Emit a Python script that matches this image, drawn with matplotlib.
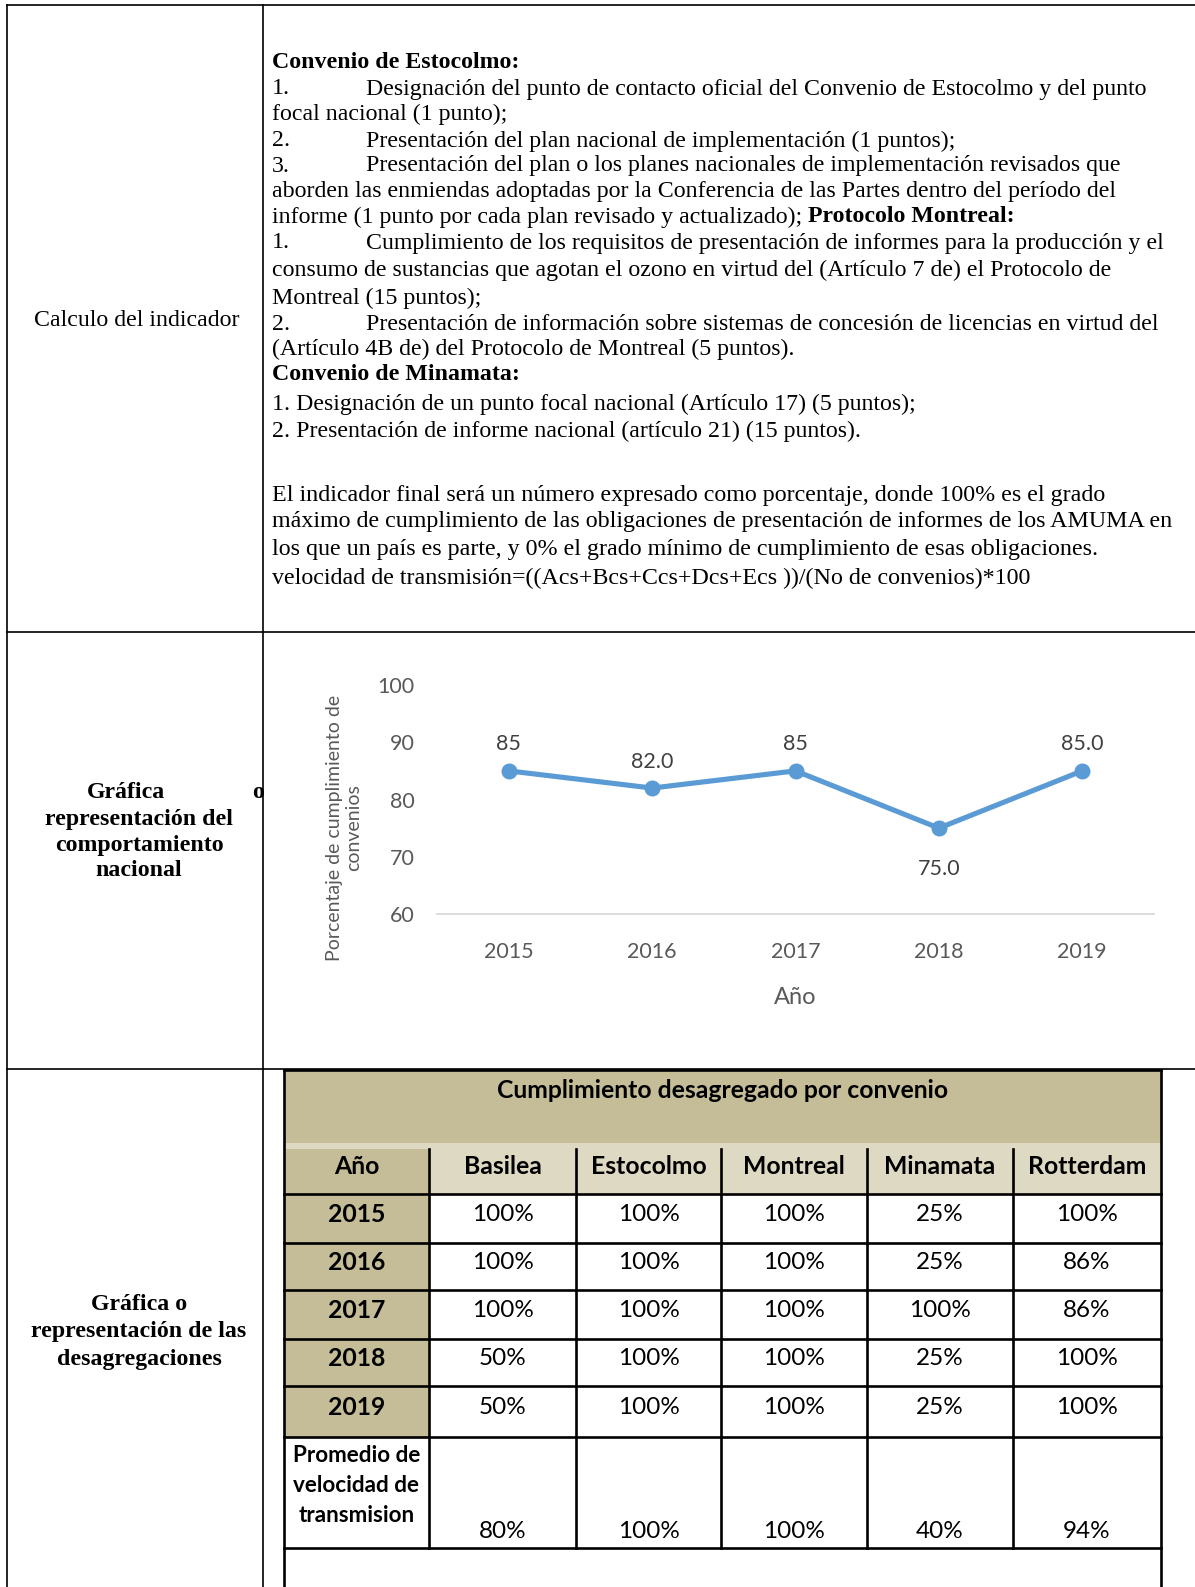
import matplotlib
matplotlib.use("Agg")
import matplotlib.pyplot as plt
from matplotlib.patches import Rectangle

# ---- data ----
anios = ['2015', '2016', '2017', '2018', '2019']
cumplimiento = [85, 82, 85, 75, 85]
etiquetas = ['85', '82.0', '85', '75.0', '85.0']
etiqueta_abajo = [False, False, False, True, False]

convenios = ['Basilea', 'Estocolmo', 'Montreal', 'Minamata', 'Rotterdam']
basilea = ['100%', '100%', '100%', '50%', '50%']
estocolmo = ['100%', '100%', '100%', '100%', '100%']
montreal = ['100%', '100%', '100%', '100%', '100%']
minamata = ['25%', '25%', '100%', '25%', '25%']
rotterdam = ['100%', '86%', '86%', '100%', '100%']
promedio = ['80%', '100%', '100%', '40%', '94%']

W, H = 1195, 1587
SERIF = 'Liberation Serif'
SANS = 'Lato'
OLIVA = '#C4BD97'
CLARO = '#DDD9C3'

fig = plt.figure(figsize=(W / 100, H / 100), dpi=100)
ax = fig.add_axes([0, 0, 1, 1])
ax.set_xlim(0, W)
ax.set_ylim(H, 0)
ax.axis('off')

# ---- outer document table ----
lw_doc = 1.2
ax.plot([7, W], [5, 5], color='black', lw=lw_doc)
ax.plot([7, 7], [5, H], color='black', lw=lw_doc)
ax.plot([263, 263], [5, H], color='black', lw=lw_doc)
ax.plot([7, W], [632, 632], color='black', lw=lw_doc)
ax.plot([7, W], [1069, 1069], color='black', lw=lw_doc)

fs_doc = 17.2
dy_txt = 2  # small baseline correction
ax.text(137, 318 + dy_txt, 'Calculo del indicador', family=SERIF, fontsize=fs_doc,
        ha='center', va='center')

# row 2 heading
ax.text(126, 791 + dy_txt, 'Gráfica', family=SERIF, fontsize=fs_doc, weight='bold',
        ha='center', va='center')
ax.text(258, 791 + dy_txt, 'o', family=SERIF, fontsize=fs_doc, weight='bold',
        ha='center', va='center')
for txt, y in [('representación del', 818), ('comportamiento', 844), ('nacional', 869)]:
    ax.text(139, y + dy_txt, txt, family=SERIF, fontsize=fs_doc, weight='bold',
            ha='center', va='center')

# row 3 heading
for txt, y in [('Gráfica o', 1303), ('representación de las', 1330), ('desagregaciones', 1357)]:
    ax.text(139, y + dy_txt, txt, family=SERIF, fontsize=fs_doc, weight='bold',
            ha='center', va='center')

# ---- text of the indicator ----
x0, x1 = 272, 366
lineas = [
    (61, None, 'Convenio de Estocolmo:', True),
    (87, '1.', 'Designación del punto de contacto oficial del Convenio de Estocolmo y del punto', False),
    (112, None, 'focal nacional (1 punto);', False),
    (139, '2.', 'Presentación del plan nacional de implementación (1 puntos);', False),
    (164, '3.', 'Presentación del plan o los planes nacionales de implementación revisados que', False),
    (189, None, 'aborden las enmiendas adoptadas por la Conferencia de las Partes dentro del período del', False),
    (241, '1.', 'Cumplimiento de los requisitos de presentación de informes para la producción y el', False),
    (268, None, 'consumo de sustancias que agotan el ozono en virtud del (Artículo 7 de) el Protocolo de', False),
    (296, None, 'Montreal (15 puntos);', False),
    (322, '2.', 'Presentación de información sobre sistemas de concesión de licencias en virtud del', False),
    (347, None, '(Artículo 4B de) del Protocolo de Montreal (5 puntos).', False),
    (373, None, 'Convenio de Minamata:', True),
    (402, None, '1. Designación de un punto focal nacional (Artículo 17) (5 puntos);', False),
    (429, None, '2. Presentación de informe nacional (artículo 21) (15 puntos).', False),
]
for y, num, txt, bold in lineas:
    w = 'bold' if bold else 'normal'
    y = y + dy_txt
    if num:
        ax.text(x0, y, num, family=SERIF, fontsize=fs_doc, ha='left', va='center')
        ax.text(x1, y, txt, family=SERIF, fontsize=fs_doc, ha='left', va='center')
    else:
        ax.text(x0, y, txt, family=SERIF, fontsize=fs_doc, weight=w, ha='left', va='center')

t = ax.text(x0, 215 + dy_txt, 'informe (1 punto por cada plan revisado y actualizado);',
            family=SERIF, fontsize=fs_doc, ha='left', va='center')
ax.annotate(' Protocolo Montreal:', xy=(1, 215 + dy_txt), xycoords=(t, 'data'),
            family=SERIF, fontsize=fs_doc, weight='bold', ha='left', va='center')

fs_par = 17.3
parrafo = [
    (493, 'El indicador final será un número expresado como porcentaje, donde 100% es el grado'),
    (520, 'máximo de cumplimiento de las obligaciones de presentación de informes de los AMUMA en'),
    (547, 'los que un país es parte, y 0% el grado mínimo de cumplimiento de esas obligaciones.'),
    (576, 'velocidad de transmisión=((Acs+Bcs+Ccs+Dcs+Ecs ))/(No de convenios)*100'),
]
for y, txt in parrafo:
    ax.text(x0, y + dy_txt, txt, family=SERIF, fontsize=fs_par, ha='left', va='center')

# ---- line chart ----
gris = '#595959'
cx = fig.add_axes([437 / W, 1 - 914 / H, 717 / W, 229 / H])
xs = list(range(len(anios)))
cx.plot(xs, cumplimiento, color='#5B9BD5', lw=3.7, marker='o', markersize=10.5,
        solid_capstyle='round')
cx.set_xlim(-0.5, len(anios) - 0.5)
cx.set_ylim(60, 100)
cx.set_yticks([60, 70, 80, 90, 100])
cx.set_xticks(xs)
cx.set_xticklabels(anios)
for s in ['top', 'right', 'left']:
    cx.spines[s].set_visible(False)
cx.spines['bottom'].set_color('#D9D9D9')
cx.spines['bottom'].set_linewidth(1.3)
cx.tick_params(axis='both', length=0, labelsize=15.5, labelcolor=gris)
cx.tick_params(axis='x', pad=20.5)
cx.tick_params(axis='y', pad=16)
for lab in cx.get_xticklabels() + cx.get_yticklabels():
    lab.set_family(SANS)
    lab.set_y(lab.get_position()[1])
cx.set_yticklabels([str(v) for v in [60, 70, 80, 90, 100]], va='center_baseline')
for lab in cx.get_yticklabels():
    lab.set_family(SANS)
cx.patch.set_alpha(0)
for i, (v, lab, abajo) in enumerate(zip(cumplimiento, etiquetas, etiqueta_abajo)):
    dy = -29.5 if abajo else 19
    cx.annotate(lab, (i, v), xytext=(0, dy), textcoords='offset points',
                ha='center', va='center', family=SANS, fontsize=15.5, color='#404040')
ax.text(795, 998, 'Año', family=SANS, fontsize=17, color=gris, ha='center', va='center')
ax.text(344, 828, 'Porcentaje de cumplimiento de\nconvenios', family=SANS, fontsize=14,
        color=gris, ha='center', va='center', rotation=90, linespacing=1.15)

# ---- table ----
cols = [284, 429, 576, 721, 867, 1013, 1161]
filas = [1194, 1243, 1290, 1339, 1386, 1437, 1548]
lw_t = 1.9
fs_tab = 17.5
fs_bold = 17.8

ax.add_patch(Rectangle((cols[0], 1070), cols[-1] - cols[0], 1143 - 1070, color=OLIVA, lw=0))
ax.add_patch(Rectangle((cols[0], 1143), cols[-1] - cols[0], filas[0] - 1143, color=CLARO, lw=0))
ax.add_patch(Rectangle((cols[0], 1149), cols[1] - cols[0], filas[0] - 1149, color=OLIVA, lw=0))
for r in range(5):
    ax.add_patch(Rectangle((cols[0], filas[r]), cols[1] - cols[0], filas[r + 1] - filas[r],
                           color=OLIVA, lw=0))

ax.text((cols[0] + cols[-1]) / 2, 1090, 'Cumplimiento desagregado por convenio',
        family=SANS, fontsize=fs_bold, weight='bold', ha='center', va='center')
ax.text((cols[0] + cols[1]) / 2, 1167, 'Año', family=SANS, fontsize=fs_bold, weight='bold',
        ha='center', va='center')
for j, c in enumerate(convenios):
    ax.text((cols[j + 1] + cols[j + 2]) / 2, 1167, c, family=SANS, fontsize=fs_bold,
            weight='bold', ha='center', va='center')

columnas = [basilea, estocolmo, montreal, minamata, rotterdam]
for r, anio in enumerate(anios):
    yc = (filas[r] + filas[r + 1]) / 2 - 4
    ax.text((cols[0] + cols[1]) / 2, yc, anio, family=SANS, fontsize=fs_bold, weight='bold',
            ha='center', va='center')
    for j, col in enumerate(columnas):
        ax.text((cols[j + 1] + cols[j + 2]) / 2, yc, col[r], family=SANS, fontsize=fs_tab,
                ha='center', va='center')

for txt, y in [('Promedio de', 1455), ('velocidad de', 1485), ('transmision', 1515)]:
    ax.text((cols[0] + cols[1]) / 2, y, txt, family=SANS, fontsize=16.2, weight='bold',
            ha='center', va='center')
for j, p in enumerate(promedio):
    ax.text((cols[j + 1] + cols[j + 2]) / 2, 1532, p, family=SANS, fontsize=fs_tab,
            ha='center', va='center')

# table lines
ax.plot([cols[0], cols[-1]], [1070, 1070], color='black', lw=lw_t)
ax.plot([cols[0], cols[0]], [1070, H], color='black', lw=lw_t)
ax.plot([cols[-1], cols[-1]], [1070, H], color='black', lw=lw_t)
for y in filas:
    ax.plot([cols[0], cols[-1]], [y, y], color='black', lw=lw_t)
for x in cols[1:-1]:
    ax.plot([x, x], [1149, filas[-1]], color='black', lw=lw_t)

fig.savefig('out.png', dpi=100)
